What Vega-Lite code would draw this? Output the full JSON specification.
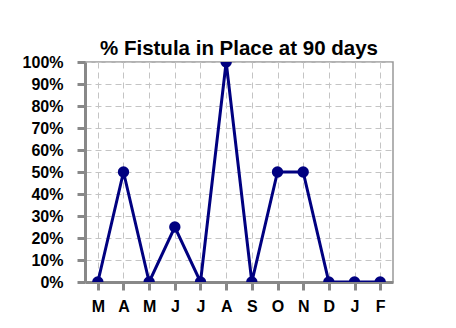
{
  "$schema": "https://vega.github.io/schema/vega-lite/v6.json",
  "autosize": "none",
  "width": 308,
  "height": 220,
  "padding": {"left": 85, "top": 62, "right": 63, "bottom": 46},
  "background": "white",
  "title": {
    "text": "% Fistula in Place at 90 days",
    "font": "Liberation Sans",
    "fontSize": 20.5,
    "fontWeight": "bold",
    "color": "black",
    "anchor": "middle",
    "offset": -5
  },
  "config": {
    "view": {"stroke": "#999999", "strokeWidth": 1.5},
    "axis": {
      "labelFont": "Liberation Sans",
      "labelFontSize": 16,
      "labelFontWeight": "bold",
      "labelColor": "black",
      "domainColor": "#888888",
      "domainWidth": 3,
      "tickColor": "#888888",
      "tickWidth": 3,
      "tickSize": 8,
      "gridColor": "#c4c4c4",
      "gridDash": [6, 4],
      "gridWidth": 1,
      "title": null
    }
  },
  "data": {
    "values": [
      {"month": "Mar", "pct": 0},
      {"month": "Apr", "pct": 0.5},
      {"month": "May", "pct": 0},
      {"month": "Jun", "pct": 0.25},
      {"month": "Jul", "pct": 0},
      {"month": "Aug", "pct": 1.0},
      {"month": "Sep", "pct": 0},
      {"month": "Oct", "pct": 0.5},
      {"month": "Nov", "pct": 0.5},
      {"month": "Dec", "pct": 0},
      {"month": "Jan", "pct": 0},
      {"month": "Feb", "pct": 0}
    ]
  },
  "encoding": {
    "x": {
      "field": "month",
      "type": "ordinal",
      "sort": null,
      "scale": {"type": "point", "padding": 0.5},
      "axis": {"labelAngle": 0, "labelExpr": "substring(datum.label, 0, 1)", "labelPadding": 8, "grid": true}
    },
    "y": {
      "field": "pct",
      "type": "quantitative",
      "scale": {"domain": [0, 1], "nice": false},
      "axis": {"format": ".0%", "values": [0, 0.1, 0.2, 0.3, 0.4, 0.5, 0.6, 0.7, 0.8, 0.9, 1.0], "labelPadding": 14, "grid": true}
    }
  },
  "layer": [
    {"mark": {"type": "line", "color": "#000080", "strokeWidth": 3, "clip": true}},
    {"mark": {"type": "point", "shape": "circle", "filled": true, "opacity": 1, "color": "#000080", "size": 130, "clip": true}}
  ]
}
